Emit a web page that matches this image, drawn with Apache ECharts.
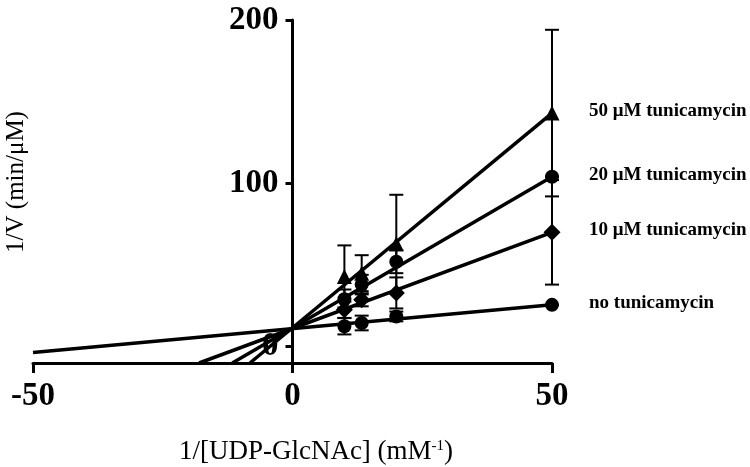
<!DOCTYPE html>
<html>
<head>
<meta charset="utf-8">
<script src="https://cdn.jsdelivr.net/npm/echarts@6/dist/echarts.min.js"></script>
<style>
html, body { margin: 0; padding: 0; background: #fff; }
#main { width: 750px; height: 467px; }
</style>
</head>
<body>
<div id="main"></div>
<script>
// 1/[S] values (mM-1)
var xValues = [10, 13.33, 20, 50];

// 1/V means (min/uM)
var noTunic = [12.5, 14.5, 18.5, 25.6];
var tunic10 = [22.6, 28.7, 32.9, 70];
var tunic20 = [29, 38, 52, 104];
var tunic50 = [43, 45, 63, 143];

// error bar half lengths
var errNo = [5, 4.5, 3, 0];
var err10 = [5, 4, 9.5, 32];
var err20 = [6, 6, 7, 0];
var err50 = [19, 11, 30, 51];

// fitted lines, ends
var fitNo = [[-50, -3.5], [50, 25.6]];
var fit10 = [[-18, -10], [50, 70]];
var fit20 = [[-11.6, -10], [50, 104]];
var fit50 = [[-8.2, -10], [50, 143]];

var seriesNames = ['no tunicamycin', '10 μM tunicamycin', '20 μM tunicamycin', '50 μM tunicamycin'];
var xTicks = [-50, 0, 50];
var yTicks = [0, 100, 200];

var serif = 'Liberation Serif';
var gridLeft = 33, gridRight = 198;
// y axis sits at x = 0, i.e. halfway across the grid
var yAxisShift = -(750 - gridLeft - gridRight) / 2;

function fitLine(pts) {
	return {
		type: 'line',
		data: pts,
		symbol: 'none',
		z: 2,
		silent: true,
		lineStyle: { color: '#000', width: 3.5 }
	};
}

function errorBars(vals, errs) {
	return {
		type: 'custom',
		z: 1,
		silent: true,
		renderItem: function (params, api) {
			var x = api.value(0), y = api.value(1), e = api.value(2);
			var top = api.coord([x, y + e]);
			var bot = api.coord([x, y - e]);
			var w = 7;
			var st = { stroke: '#000', lineWidth: 2 };
			return {
				type: 'group',
				children: [
					{ type: 'line', shape: { x1: top[0], y1: top[1], x2: bot[0], y2: bot[1] }, style: st },
					{ type: 'line', shape: { x1: top[0] - w, y1: top[1], x2: top[0] + w, y2: top[1] }, style: st },
					{ type: 'line', shape: { x1: bot[0] - w, y1: bot[1], x2: bot[0] + w, y2: bot[1] }, style: st }
				]
			};
		},
		data: xValues.map(function (x, i) { return [x, vals[i], errs[i]]; })
	};
}

function points(name, vals, symbol, size) {
	return {
		name: name,
		type: 'scatter',
		symbol: symbol,
		symbolSize: size,
		z: 3,
		itemStyle: { color: '#000', opacity: 1 },
		label: {
			show: true,
			position: 'right',
			distance: 37 - size / 2, // keep all end labels on one left edge
			offset: [0, -2],
			color: '#000',
			fontFamily: serif,
			fontWeight: 'bold',
			fontSize: 19,
			formatter: function (p) {
				return p.dataIndex === xValues.length - 1 ? p.seriesName : '';
			}
		},
		data: xValues.map(function (x, i) { return [x, vals[i]]; })
	};
}

var chart = echarts.init(document.getElementById('main'));

var option = {
	animation: false,
	backgroundColor: '#fff',
	grid: { left: gridLeft, right: gridRight, top: 20, bottom: 104, outerBoundsMode: 'none', containLabel: false },
	xAxis: {
		type: 'value',
		min: -50,
		max: 50,
		interval: 50,
		splitLine: { show: false },
		axisLine: { onZero: false, lineStyle: { color: '#000', width: 3 } },
		axisTick: { length: 10, lineStyle: { color: '#000', width: 3 } },
		axisLabel: {
			color: '#000',
			fontFamily: serif,
			fontWeight: 'bold',
			fontSize: 33,
			margin: 17
		}
	},
	yAxis: {
		type: 'value',
		min: -10,
		max: 200,
		offset: yAxisShift,
		splitLine: { show: false },
		axisLine: { onZero: false, lineStyle: { color: '#000', width: 3 } },
		axisTick: { length: 7, customValues: yTicks, lineStyle: { color: '#000', width: 3 } },
		axisLabel: {
			customValues: yTicks,
			color: '#000',
			fontFamily: serif,
			fontWeight: 'bold',
			fontSize: 33,
			margin: 14
		}
	},
	graphic: [
		{
			type: 'text',
			x: 16,
			y: 182,
			rotation: Math.PI / 2,
			style: {
				text: '1/V (min/μM)',
				align: 'center',
				verticalAlign: 'middle',
				fill: '#000',
				font: '25px "Liberation Serif"'
			}
		},
		{
			type: 'text',
			x: 316,
			y: 452,
			style: {
				text: '{a|1/[UDP-GlcNAc] (mM}{s|-1}{a|)}',
				align: 'center',
				verticalAlign: 'middle',
				fill: '#000',
				rich: {
					a: { fontFamily: serif, fontSize: 27, fill: '#000' },
					s: { fontFamily: serif, fontSize: 15, fill: '#000', verticalAlign: 'top' }
				}
			}
		}
	],
	series: [
		fitLine(fitNo),
		fitLine(fit10),
		fitLine(fit20),
		fitLine(fit50),
		errorBars(noTunic, errNo),
		errorBars(tunic10, err10),
		errorBars(tunic20, err20),
		errorBars(tunic50, err50),
		points(seriesNames[0], noTunic, 'circle', 14),
		points(seriesNames[1], tunic10, 'diamond', 17),
		points(seriesNames[2], tunic20, 'circle', 14),
		points(seriesNames[3], tunic50, 'triangle', 15)
	]
};

chart.setOption(option);
</script>
</body>
</html>
